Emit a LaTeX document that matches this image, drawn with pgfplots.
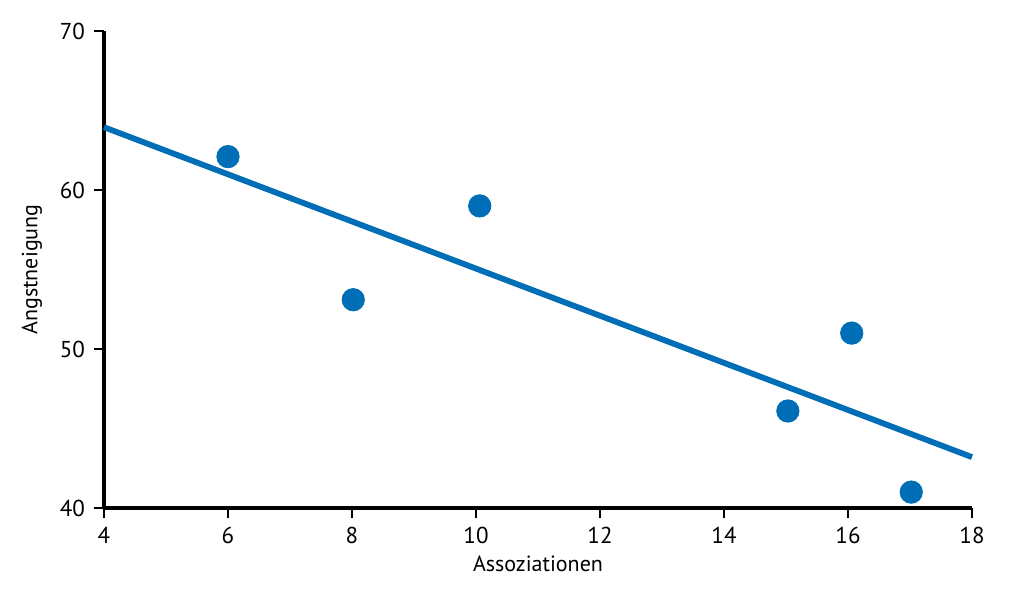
\documentclass[border=0pt]{standalone}
\usepackage{pgfplots}
\pgfplotsset{compat=1.18}
\usepackage{fontspec}
\setmainfont{PT Sans}
\definecolor{mblue}{RGB}{0,110,182}

\begin{document}
\begin{tikzpicture}
  \begin{axis}[
    at={(0,0)}, anchor=origin,
    width=434pt, height=238.5pt,
    scale only axis,
    xmin=4, xmax=18, ymin=40, ymax=70,
    xtick={4,6,...,18}, ytick={40,50,60,70},
    axis lines*=left,
    axis line style={line width=2.2pt, -},
    tick align=outside,
    tick style={black, line width=1pt},
    major tick length=5pt,
    xticklabel style={yshift=-1pt},
    yticklabel style={xshift=-1pt},
    /pgf/number format/assume math mode=true,
    ticklabel style={font=\fontsize{11.5}{13}\selectfont},
    label style={font=\fontsize{11}{13}\selectfont},
    xlabel={Assoziationen},
    ylabel={Angstneigung},
    xlabel style={at={(axis description cs:0.5,0)}, yshift=-28pt, anchor=center},
    ylabel style={at={(axis description cs:0,0.5)}, anchor=center, yshift=36pt},
    clip=false,
  ]
    % regression line
    \addplot[mblue, line width=2.9pt] coordinates {(4,63.95) (18,43.2)};
    % observations
    \addplot[only marks, mark=*, mark size=5.6pt, mblue, mark options={draw=mblue, fill=mblue}]
      coordinates {
        (6,62.1)
        (8.02,53.1)
        (10.06,59.0)
        (15.03,46.1)
        (16.06,51.0)
        (17.02,41.0)
      };
  \end{axis}
  \path[use as bounding box] (-52pt,-40pt) rectangle (455.5pt,254pt);
\end{tikzpicture}
\end{document}
